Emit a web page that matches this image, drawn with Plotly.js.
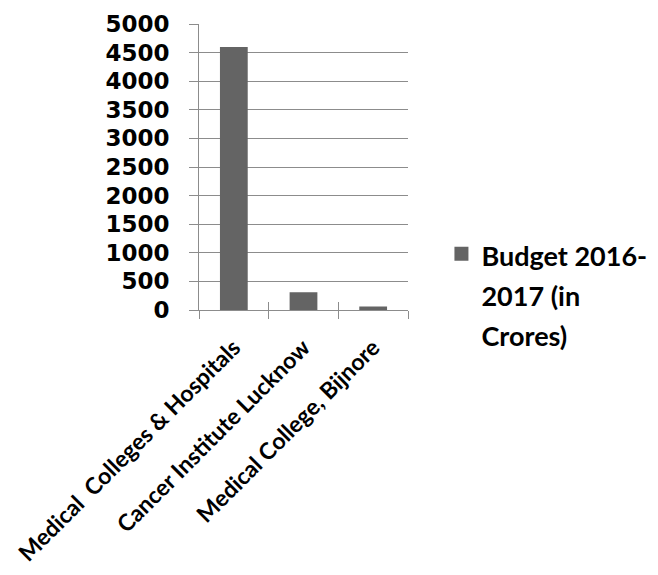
<!DOCTYPE html>
<html>
<head>
<meta charset="utf-8">
<script src="https://cdn.plot.ly/plotly-3.0.1.min.js"></script>
<style>html,body{margin:0;padding:0;background:#fff;}#chart{width:658px;height:575px;}</style>
</head>
<body>
<div id="chart"></div>
<script>
var categories = ["Medical  Colleges & Hospitals", "Cancer Institute Lucknow", "Medical College, Bijnore"];
var budget = [4580, 295, 45];
var seriesName = "Budget 2016-<br>2017 (in<br>Crores)";
var yTicks = [0, 500, 1000, 1500, 2000, 2500, 3000, 3500, 4000, 4500, 5000];

var trace = {
  type: "bar",
  x: categories,
  y: budget,
  name: '<span style="font-size:27px">' + seriesName.split("<br>").join('</span><br><span style="font-size:27px">') + '</span>',
  marker: {color: "#646464", line: {color: "#646464", width: 2}},
  xaxis: "x",
  yaxis: "y"
};
var ghost = {
  type: "bar", x: categories, y: budget, xaxis: "x2", yaxis: "y",
  showlegend: false, hoverinfo: "skip", marker: {color: "rgba(0,0,0,0)"}
};

var layout = {
  width: 658, height: 575,
  margin: {l: 199, r: 250, t: 24, b: 265, autoexpand: false},
  paper_bgcolor: "#fff", plot_bgcolor: "#fff",
  bargap: 0.63,
  showlegend: true,
  legend: {
    x: 1.16, xanchor: "left", y: 0.29, yanchor: "top", valign: "top",
    font: {family: "Lato, 'Open Sans', sans-serif", size: 31, color: "#000", weight: "bold"},
    itemwidth: 30
  },
  xaxis: {
    type: "category",
    tickson: "boundaries",
    ticks: "outside", ticklen: 8, tickwidth: 1, tickcolor: "#8c8c8c",
    showline: true, linecolor: "#8c8c8c", linewidth: 1,
    showgrid: false,
    tickangle: -45,
    ticklabelstandoff: 14,
    tickfont: {family: "Lato, 'Open Sans', sans-serif", size: 23, color: "#000", weight: "bold"},
    automargin: false
  },
  xaxis2: {
    type: "category", overlaying: "x", matches: "x", side: "bottom",
    tickson: "boundaries", ticks: "inside", ticklen: 8, tickwidth: 1, tickcolor: "#8c8c8c",
    showticklabels: false, showgrid: false, showline: false
  },
  yaxis: {
    range: [0, 5000],
    tickvals: yTicks,
    ticktext: yTicks.map(String),
    ticks: "outside", ticklen: 9, tickwidth: 1, tickcolor: "#8c8c8c",
    ticklabelstandoff: 15,
    showline: true, linecolor: "#8c8c8c", linewidth: 1,
    showgrid: true, gridcolor: "#8c8c8c", gridwidth: 1,
    zeroline: false,
    tickfont: {family: "'DejaVu Sans', sans-serif", size: 23, color: "#000", weight: "bold"},
    automargin: false
  }
};

Plotly.newPlot("chart", [trace, ghost], layout, {displayModeBar: false, staticPlot: true});
</script>
</body>
</html>
